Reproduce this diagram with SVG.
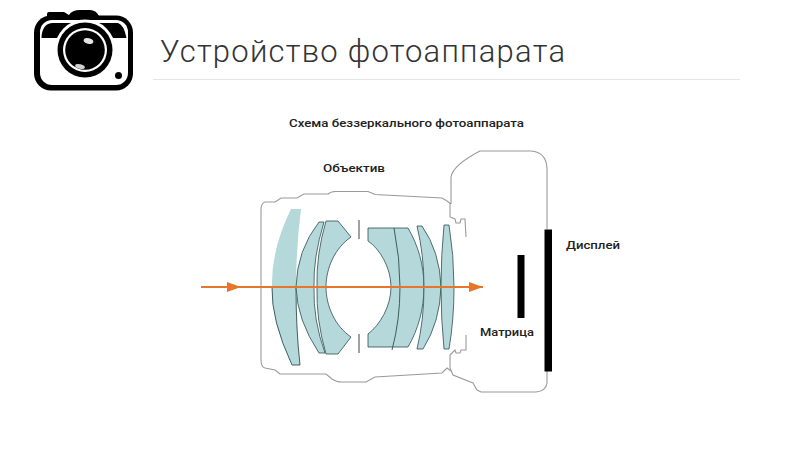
<svg xmlns="http://www.w3.org/2000/svg" width="800" height="450" viewBox="0 0 800 450">
<style>
.lens{fill:#b5d8da;stroke:#2f4f50;stroke-width:.8}
.lensbare{fill:#b5d8da}
.edge{fill:none;stroke:#2f4f50;stroke-width:.9}
.body{fill:none;stroke:#9a9a9a;stroke-width:1.1}
.lbl{font-family:"Roboto","Liberation Sans",sans-serif;font-size:11px;font-weight:500;fill:#222}
.stop{stroke:#555;stroke-width:1.1}
.ray{stroke:#e8762a;stroke-width:2;fill:none}
</style>
<defs>
<marker id="ah" viewBox="0 0 14 12" refX="14" refY="6" markerWidth="14" markerHeight="12" markerUnits="userSpaceOnUse" orient="auto"><path d="M0 1L14 6L0 11Z" fill="#e8762a"/></marker>
</defs>
<rect width="800" height="450" fill="#fff"/>
<g id="icon">
<path d="M47 20V14Q47 12 49 12H64L69 15Q72 10 80 10H90Q96 10 99 16V20Z" fill="#000"/>
<rect x="34" y="15.500" width="99" height="75" rx="17" fill="#000"/>
<rect x="40" y="20" width="88" height="65" rx="12" fill="#fff"/>
<path d="M41.500 38Q42 24 52 23H118Q124 25 126.500 38H42Z" fill="#000"/>
<circle cx="85" cy="50" r="30.500" fill="#fff"/>
<rect x="78" y="20" width="14" height="6" fill="#fff"/>
<circle cx="85" cy="50" r="27.500" fill="#000"/>
<circle cx="85" cy="50" r="22" fill="#fff"/>
<circle cx="85" cy="50" r="19.800" fill="#000"/>
<ellipse cx="88.500" cy="41" rx="5" ry="2.800" fill="#e4e4e4" transform="rotate(15 88.500 41)"/>
<ellipse cx="80" cy="66.500" rx="5" ry="2.200" fill="#d0d0d0" transform="rotate(15 80 66.500)"/>
<circle cx="118.500" cy="75.500" r="3.500" fill="#000"/>
</g>
<text id="title" x="160" y="62" font-family="Roboto,'Liberation Sans',sans-serif" font-size="31" font-weight="300" fill="#333" textLength="405" lengthAdjust="spacing">Устройство фотоаппарата</text>
<rect id="rule" x="153" y="79" width="587" height="1" fill="#e6e6e6"/>
<g id="heading"><text class="lbl" x="289" y="127" textLength="235" lengthAdjust="spacingAndGlyphs">Схема беззеркального фотоаппарата</text></g>
<g id="body-outline">
<path class="body" d="M451 204L447 201L442 198L375 194.500L368 191.500H335Q330 192 328 194H304L297 198H281L275 202H265Q261 203 261 210V360Q261 367 265 368L275 370L280 374H326L332 379Q336 382 342 382H366L375 377L442 373L447 368L451 371"/>
<path class="body" d="M451 204V177Q453 165 480 151H531Q546 152 547 168V229"/>
<path class="body" d="M450 203V217L455 219L456 223H460L461 219H465L466 237"/>
<path class="body" d="M466 335V350H461L460 353H456L455 350L450 355V368L453 375L473 383L477 390L481 392H536Q546 391 547 383V371"/>
</g>
<g id="lenses">
<path class="lensbare" d="M291 209H301Q296 250 296 287Q296 330 300 365H292Q271 320 272 287Q271 250 291 209Z"/>
<path class="edge" d="M272 287Q271 320 292 365H300Q296 330 296 287"/>
<path class="lens" d="M319 222H324Q313 258 314 287Q313 320 325 353H319Q297 320 296 287Q297 250 319 222Z"/>
<path class="lens" d="M326 221H338L351 237C335 248 326 268 326 287C326 306 335 326 351 337L338 354H326Q316 320 317 287Q316 255 326 221Z"/>
<path class="lens" d="M368 228H408C418 245 424 265 424 287C424 309 418 330 408 347H368V334C380 325 391 306 391 287C391 268 380 249 368 241Z"/>
<path class="edge" d="M394 228Q400 258 400 287Q400 320 392 350"/>
<path class="lens" d="M417 226H422Q440 252 441 287Q440 322 423 349H417Q424 320 424 287Q424 255 417 226Z"/>
<path class="lens" d="M444 225H449Q454 255 454 287Q454 320 449 349H444Q441 320 441 287Q441 255 444 225Z"/>
<path class="stop" d="M359 220V239M359 334V353"/>
</g>
<g id="sensors">
<rect id="matrix" x="517.500" y="255" width="7" height="63" fill="#000"/>
<rect id="display" x="544.500" y="229.500" width="7.500" height="142" fill="#000"/>
</g>
<g id="connectors">
<path class="ray" d="M201 287H241" marker-end="url(#ah)"/>
<path class="ray" d="M241 287H483" marker-end="url(#ah)"/>
</g>
<g id="labels">
<text class="lbl" x="323" y="172" textLength="62" lengthAdjust="spacingAndGlyphs">Объектив</text>
<text class="lbl" x="566" y="249" textLength="54" lengthAdjust="spacingAndGlyphs">Дисплей</text>
<text class="lbl" x="480" y="336" textLength="54" lengthAdjust="spacingAndGlyphs">Матрица</text>
</g>
</svg>
